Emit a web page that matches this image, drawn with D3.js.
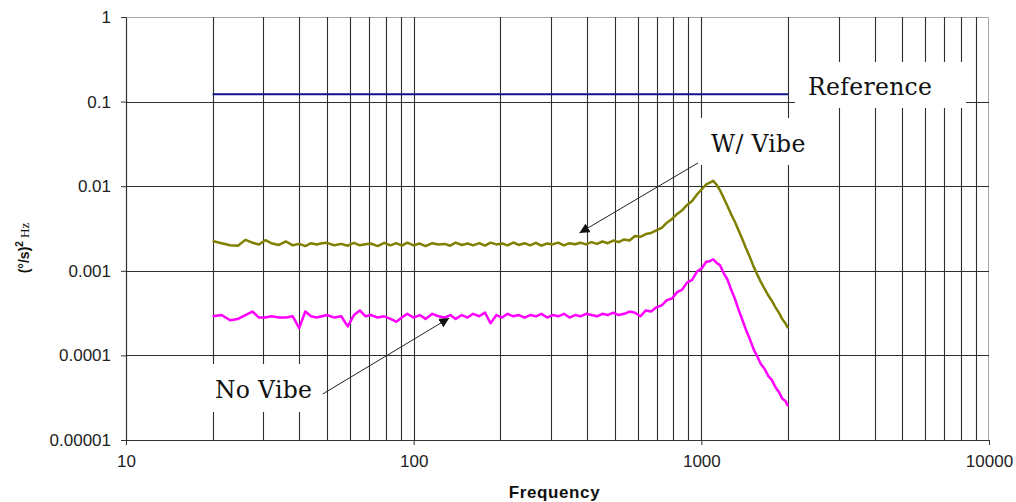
<!DOCTYPE html>
<html>
<head>
<meta charset="utf-8">
<script src="https://cdn.jsdelivr.net/npm/d3@7"></script>
<style>
body{margin:0;background:#fff;}
</style>
</head>
<body>
<svg width="1016" height="502"></svg>
<script>
// frequencies (Hz) shared by both measured series
var freq = [20,21.5,23,24.5,26,27.5,29,30.5,32,34,
    36,38,40,42,44,46,48,50,53,56,
    59,62,65,68,71,75,79,83,87,91,
    95,100,105,110,116,122,128,134,140,147,
    154,161,169,177,185,194,203,212,222,232,
    243,254,266,278,291,304,318,333,348,364,
    380,397,415,434,453,473,494,516,539,563,
    588,614,641,669,698,728,759,791,824,858,
    893,929,966,1004,1040,1070,1100,1130,1160,1195,
    1230,1270,1310,1350,1390,1430,1475,1520,1565,1610,
    1660,1710,1760,1810,1860,1910,1960,2000];

var withVibe = [.00225,.00212,.00200,.00198,.00232,.00215,.00205,.00230,.00212,.00202,
    .00222,.00200,.00208,.00196,.00212,.00205,.00212,.00214,.00200,.00208,
    .00198,.00214,.00200,.00206,.00210,.00196,.00214,.00200,.00212,.00198,
    .00215,.00200,.00210,.00196,.00212,.00205,.00208,.00198,.00215,.00202,
    .00210,.00200,.00212,.00198,.00215,.00205,.00210,.00200,.00216,.00202,
    .00212,.00200,.00214,.00198,.00210,.00205,.00215,.00200,.00212,.00206,
    .00215,.00205,.00218,.00208,.00222,.00212,.00228,.00218,.00235,.00228,
    .00258,.00252,.00272,.00280,.00300,.00322,.00370,.00410,.00470,.00520,
    .00600,.00670,.00800,.00920,.01050,.01100,.01160,.01040,.00900,.00730,
    .00590,.00465,.00375,.00295,.00235,.00185,.00145,.00112,.00090,.00074,
    .00061,.00051,.00044,.00037,.00032,.00027,.00024,.00021];

var noVibe = [.00029,.00030,.00026,.00027,.00030,.00033,.00028,.00028,.00029,.00028,
    .00028,.00029,.00021,.00033,.00029,.00028,.00029,.00030,.00028,.00029,
    .00022,.00030,.00034,.00029,.00030,.00028,.00029,.00027,.00025,.00028,
    .00031,.00028,.00030,.00027,.00031,.00029,.00028,.00030,.00027,.00030,
    .00028,.00031,.00029,.00032,.00024,.00030,.00028,.00031,.00029,.00030,
    .00028,.00030,.00029,.00031,.00028,.00030,.00029,.00031,.00028,.00030,
    .00029,.00031,.00030,.00029,.00031,.00030,.00032,.00030,.00031,.00033,
    .00032,.00029,.00034,.00033,.00037,.00039,.00045,.00047,.00056,.00060,
    .00073,.00078,.00098,.00107,.00128,.00130,.00137,.00124,.00117,.00094,
    .00080,.00060,.00046,.00034,.00026,.00020,.000155,.000118,.000097,.000079,
    .000069,.000057,.000051,.000042,.000037,.000031,.000029,.000025];

// reference level, drawn flat from 20 Hz to 2 kHz
var refFreq = [20,2000];
var refLevel = [0.122,0.122];

var xTicks = [10,100,1000,10000];
var xTickLabels = ['10','100','1000','10000'];
var yTicks = [0.00001,0.0001,0.001,0.01,0.1,1];
var yTickLabels = ['0.00001','0.0001','0.001','0.01','0.1','1'];

var svg;
var margin = {top:17, right:27, bottom:62, left:126},
    width = 1016 - margin.left - margin.right,
    height = 502 - margin.top - margin.bottom;
var x, y, g;

document.addEventListener('DOMContentLoaded',function(){
    svg = d3.select('svg');
    x = d3.scaleLog().domain([10,10000]).range([0,width]);
    y = d3.scaleLog().domain([0.00001,1]).range([height,0]);
    g = svg.append('g').attr('transform','translate('+margin.left+','+margin.top+')');

    svg.append('defs').append('marker')
        .attr('id','arrow')
        .attr('viewBox','0 0 10 10')
        .attr('refX',10).attr('refY',5)
        .attr('markerWidth',10).attr('markerHeight',10)
        .attr('markerUnits','userSpaceOnUse')
        .attr('orient','auto')
        .append('path')
        .attr('d','M0,0 L10,5 L0,10 z')
        .attr('fill','#111');

    plotGrid();
    plotLabels();
    plotSeries();
    plotAxes();
});

function plotGrid(){
    // frame: light top and right edges
    g.append('line').attr('x1',0).attr('x2',width).attr('y1',0.5).attr('y2',0.5)
        .attr('stroke','#a8a8a8');
    g.append('line').attr('x1',width-0.5).attr('x2',width-0.5).attr('y1',0).attr('y2',height)
        .attr('stroke','#a8a8a8');

    var vlines = x.ticks().filter(d => d > 10 && d < 10000);
    g.selectAll('.vgrid')
        .data(vlines)
        .join('line')
        .attr('class','vgrid')
        .attr('x1',d => Math.round(x(d))+0.5)
        .attr('x2',d => Math.round(x(d))+0.5)
        .attr('y1',0).attr('y2',height)
        .attr('stroke','#2e2e2e')
        .attr('stroke-width',1.1);

    g.selectAll('.hgrid')
        .data(yTicks.filter(d => d > 0.00001 && d < 1))
        .join('line')
        .attr('class','hgrid')
        .attr('x1',0).attr('x2',width)
        .attr('y1',d => Math.round(y(d))+0.5)
        .attr('y2',d => Math.round(y(d))+0.5)
        .attr('stroke','#2e2e2e')
        .attr('stroke-width',1.1);
}

function plotLabels(){
    // white boxes that hide the grid behind the callouts (page pixels)
    var notes = [
        {t:'Reference', tx:808, ty:95, box:[795,62,966,108]},
        {t:'W/ Vibe', tx:711, ty:152, box:[698,118,832,165]},
        {t:'No Vibe', tx:215, ty:398, box:[205,364,321,412]}
    ];
    svg.selectAll('.notebox')
        .data(notes)
        .join('rect')
        .attr('class','notebox')
        .attr('x',d => d.box[0]).attr('y',d => d.box[1])
        .attr('width',d => d.box[2]-d.box[0])
        .attr('height',d => d.box[3]-d.box[1])
        .attr('fill','#fff');
    svg.selectAll('.note')
        .data(notes)
        .join('text')
        .attr('class','note')
        .attr('x',d => d.tx).attr('y',d => d.ty)
        .attr('font-family','"DejaVu Serif", serif')
        .attr('font-size','23.5px')
        .attr('letter-spacing','0.3px')
        .attr('fill','#111')
        .text(d => d.t);
}

function plotSeries(){
    var line = d3.line()
        .x(d => x(d[0]))
        .y(d => y(d[1]));

    g.append('path')
        .datum(d3.zip(refFreq,refLevel))
        .attr('d',line)
        .attr('fill','none')
        .attr('stroke','#10108a')
        .attr('stroke-width',2);

    g.append('path')
        .datum(d3.zip(freq,withVibe))
        .attr('d',line)
        .attr('fill','none')
        .attr('stroke','#808000')
        .attr('stroke-width',2.5)
        .attr('stroke-linejoin','round');

    g.append('path')
        .datum(d3.zip(freq,noVibe))
        .attr('d',line)
        .attr('fill','none')
        .attr('stroke','#ff00ff')
        .attr('stroke-width',2.5)
        .attr('stroke-linejoin','round');

    // callout arrows, ends given in data units [Hz, value]
    var arrows = [
        {from:[1040,0.0215], to:[377,0.0028]},
        {from:[48.3,0.000035], to:[133,0.000277]}
    ];
    g.selectAll('.arrow')
        .data(arrows)
        .join('line')
        .attr('class','arrow')
        .attr('x1',d => x(d.from[0])).attr('y1',d => y(d.from[1]))
        .attr('x2',d => x(d.to[0])).attr('y2',d => y(d.to[1]))
        .attr('stroke','#222')
        .attr('stroke-width',1)
        .attr('marker-end','url(#arrow)');
}

function plotAxes(){
    var xAxis = g.append('g')
        .attr('transform','translate(0,'+height+')')
        .call(d3.axisBottom(x).tickValues(xTicks)
            .tickFormat((d,i) => xTickLabels[i])
            .tickSize(5).tickSizeOuter(0).tickPadding(10));
    var yAxis = g.append('g')
        .call(d3.axisLeft(y).tickValues(yTicks)
            .tickFormat((d,i) => yTickLabels[i])
            .tickSize(5).tickSizeOuter(0).tickPadding(10));

    [xAxis,yAxis].forEach(function(a){
        a.select('.domain').attr('stroke','#333').attr('stroke-width',1.2);
        a.selectAll('.tick line').attr('stroke','#333');
        a.selectAll('.tick text')
            .attr('font-family','"Liberation Sans", Arial, sans-serif')
            .attr('font-size','17px')
            .attr('fill','#222');
    });

    svg.append('text')
        .attr('x',margin.left + width/2 - 3)
        .attr('y',498)
        .attr('text-anchor','middle')
        .attr('font-family','"Liberation Sans", Arial, sans-serif')
        .attr('font-weight','bold')
        .attr('font-size','17px')
        .attr('letter-spacing','0.6px')
        .attr('fill','#111')
        .text('Frequency');

    var yt = svg.append('text')
        .attr('transform','translate(29,248) rotate(-90)')
        .attr('text-anchor','middle')
        .attr('fill','#111');
    yt.append('tspan')
        .attr('font-family','"Liberation Sans", Arial, sans-serif')
        .attr('font-weight','bold')
        .attr('font-size','14px')
        .text('(°/s)');
    yt.append('tspan')
        .attr('font-family','"Liberation Sans", Arial, sans-serif')
        .attr('font-weight','bold')
        .attr('font-size','10px')
        .attr('dy','-6')
        .text('2');
    yt.append('tspan')
        .attr('font-family','"Liberation Serif", serif')
        .attr('font-size','13px')
        .attr('dy','6')
        .text(' Hz');
}
</script>
</body>
</html>
